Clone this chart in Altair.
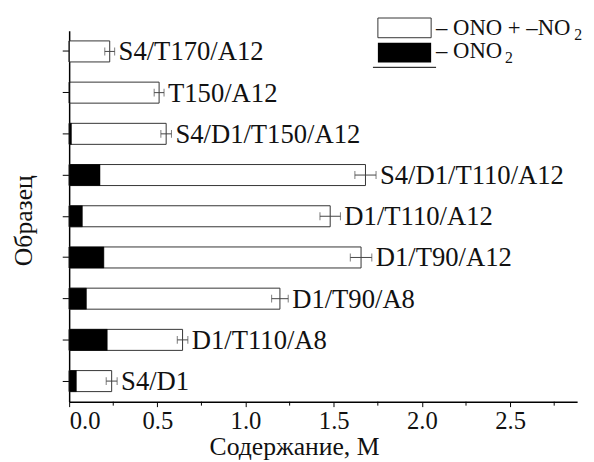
import altair as alt
import pandas as pd

samples = ["S4/T170/A12", "T150/A12", "S4/D1/T150/A12", "S4/D1/T110/A12",
           "D1/T110/A12", "D1/T90/A12", "D1/T90/A8", "D1/T110/A8", "S4/D1"]
total = [0.23, 0.51, 0.55, 1.68, 1.48, 1.655, 1.195, 0.643, 0.241]
ono2 = [0.0, 0.005, 0.013, 0.175, 0.075, 0.197, 0.098, 0.216, 0.041]
err = [0.028, 0.028, 0.03, 0.06, 0.058, 0.061, 0.047, 0.03, 0.031]
major_ticks = [0.0, 0.5, 1.0, 1.5, 2.0, 2.5]
minor_ticks = [0.25, 0.75, 1.25, 1.75, 2.25, 2.75]

df = pd.DataFrame({
    "sample": samples,
    "total": total,
    "ono2": ono2,
    "lo": [t - e for t, e in zip(total, err)],
    "hi": [t + e for t, e in zip(total, err)],
})
minor_df = pd.DataFrame({"v": minor_ticks})
one = pd.DataFrame({"k": [0]})

W, H = 515, 376
FONT = "Times New Roman, Liberation Serif, serif"

xscale = alt.Scale(domain=[0, 2.88], nice=False, zero=True)
yscale = alt.Scale(domain=samples, paddingInner=0.49, paddingOuter=0.245)

x_enc = alt.X("total:Q", scale=xscale,
              axis=alt.Axis(title="Содержание, М", values=major_ticks, format=".1f",
                            tickSize=5, labelPadding=2, grid=False,
                            titleX=228, titleY=46, titleBaseline="middle",
                            titleAlign="center"))
y_enc = alt.Y("sample:N", scale=yscale, sort=samples,
              axis=alt.Axis(title="Образец", labels=False, tickSize=7, grid=False,
                            titleX=-46, titleY=192, titleAngle=-90,
                            titleBaseline="middle", titleAlign="center"))
y_plain = alt.Y("sample:N", scale=yscale, sort=samples)

base = alt.Chart(df)

white = base.mark_bar(fill="white", stroke="#333333", strokeWidth=1).encode(
    x=x_enc, y=y_enc)
black = base.mark_bar(fill="black", stroke="black", strokeWidth=0.5).encode(
    x=alt.X("ono2:Q", scale=xscale), y=y_plain)
rule = base.mark_rule(color="#444444", strokeWidth=1).encode(
    x=alt.X("lo:Q", scale=xscale), x2="hi:Q", y=y_plain)
tick_lo = base.mark_tick(color="#444444", thickness=1, size=8).encode(
    x=alt.X("lo:Q", scale=xscale), y=y_plain)
tick_hi = base.mark_tick(color="#444444", thickness=1, size=8).encode(
    x=alt.X("hi:Q", scale=xscale), y=y_plain)
labels = base.mark_text(align="left", baseline="middle", dx=4, dy=1, font=FONT,
                        fontSize=27, color="#111111").encode(
    x=alt.X("hi:Q", scale=xscale), y=y_plain, text="sample:N")

minor = alt.Chart(minor_df).mark_rule(color="black", strokeWidth=1).encode(
    x=alt.X("v:Q", scale=xscale), y=alt.value(H), y2=alt.value(H + 4))

# legend
lg = alt.Chart(one)
leg_white = lg.mark_rect(fill="white", stroke="#333333", strokeWidth=1).encode(
    x=alt.value(313), x2=alt.value(367), y=alt.value(-13), y2=alt.value(7))
leg_black = lg.mark_rect(fill="black").encode(
    x=alt.value(313), x2=alt.value(367), y=alt.value(12), y2=alt.value(32))
leg_line = lg.mark_rule(color="black", strokeWidth=1).encode(
    x=alt.value(308), x2=alt.value(372), y=alt.value(37))
leg_t1 = lg.mark_text(align="left", baseline="middle", font=FONT,
                      fontSize=23, color="#111111").encode(
    x=alt.value(372), y=alt.value(-3), text=alt.value("– ONO + –NO"))
leg_s1 = lg.mark_text(align="left", baseline="middle", font=FONT,
                      fontSize=16, color="#111111").encode(
    x=alt.value(512), y=alt.value(4), text=alt.value("2"))
leg_t2 = lg.mark_text(align="left", baseline="middle", font=FONT,
                      fontSize=23, color="#111111").encode(
    x=alt.value(372), y=alt.value(21), text=alt.value("– ONO"))
leg_s2 = lg.mark_text(align="left", baseline="middle", font=FONT,
                      fontSize=16, color="#111111").encode(
    x=alt.value(442), y=alt.value(28), text=alt.value("2"))

chart = alt.layer(
    white, black, rule, tick_lo, tick_hi, labels, minor,
    leg_white, leg_black, leg_line, leg_t1, leg_s1, leg_t2, leg_s2
).properties(
    width=W, height=H,
    autosize=alt.AutoSizeParams(type="none"),
    padding={"left": 62, "top": 20, "right": 9, "bottom": 58},
).configure_view(stroke=None).configure_axis(
    domainColor="black", domainWidth=1.5, tickColor="black", tickWidth=1,
    labelFont=FONT, titleFont=FONT, labelFontSize=25, titleFontSize=26,
    labelColor="#111111", titleColor="#111111", titleFontWeight="normal",
)

chart.save("out.html", embed_options={"renderer": "svg", "actions": False})
